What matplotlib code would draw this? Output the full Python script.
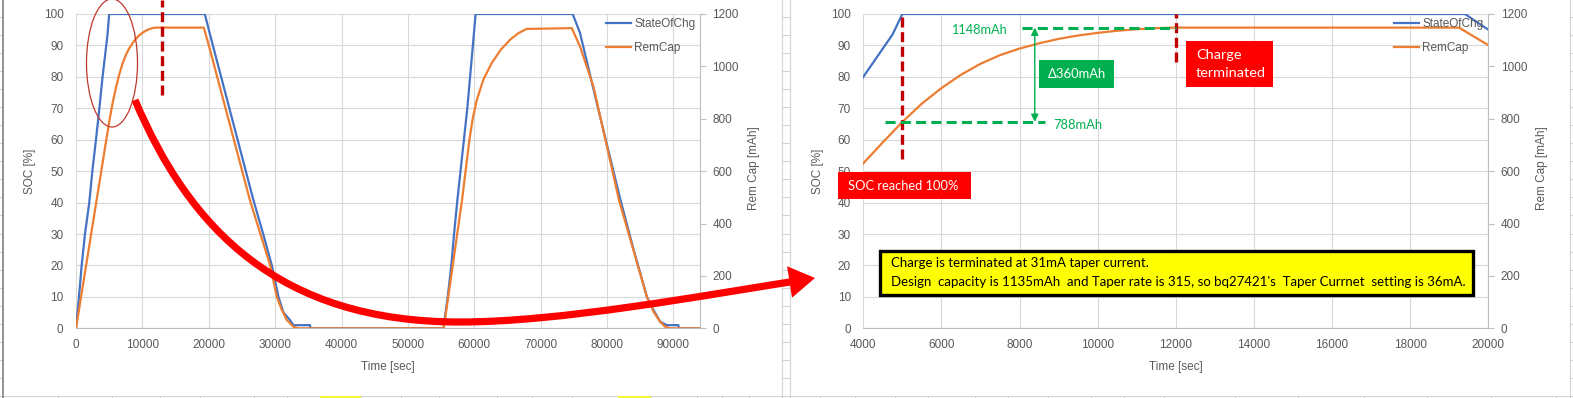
import matplotlib
matplotlib.use("Agg")
import matplotlib.pyplot as plt
from matplotlib.patches import Rectangle, Ellipse, FancyArrowPatch
from matplotlib.path import Path
from matplotlib.lines import Line2D

# ---- values ----
soc_t = [0, 450, 850, 1350, 2000, 2460, 3010, 3520, 4000, 4250, 4500, 4750, 5000,
         19400, 20000, 26700, 28200, 29500, 30500, 31250, 32250, 32750, 35250, 35300,
         55340, 56000, 56540, 56950, 57460, 58950, 60200,
         74820, 75920, 78700, 82000, 84000, 86000, 87000, 88000, 89000, 90750, 90800, 94000]
soc = [0, 10, 20, 30, 40, 50, 60, 70, 80, 84.5, 89, 93.5, 100,
       100, 95, 41, 30, 20, 10, 5, 2.6, 1, 1, 0,
       0, 10, 20, 30, 41, 70, 100,
       100, 94, 69.5, 41, 25, 10, 5.8, 2.1, 1, 1, 0, 0]

cap_t = [0, 3100, 4000, 4500, 5000, 5500, 6000, 6500, 7000, 7500, 8000, 8500, 9000, 9500,
         10000, 10500, 11000, 11500, 12000,
         19250, 20000, 26200, 29250, 30250, 31000, 31750, 32750, 33500,
         55400, 58150, 58760, 59260, 59760, 60370, 61370, 62630, 64000, 65400, 66650, 67900,
         74690, 75940, 77950, 81800, 86000, 87000, 88000, 88750, 89500, 94000]
cap = [0, 489, 630, 710, 788, 858, 917, 968, 1010, 1043, 1068, 1088, 1105, 1118,
       1128, 1136, 1142, 1146, 1148,
       1148, 1081, 489, 240, 120, 70, 32, 6, 0,
       0, 489, 616, 719, 800, 871, 950, 1013, 1064, 1102, 1127, 1143,
       1146, 1075, 923, 489, 120, 63, 25, 6, 0, 0]

left_xticks = list(range(0, 90001, 10000))
right_xticks = list(range(4000, 20001, 2000))
soc_ticks = list(range(0, 101, 10))
cap_ticks = list(range(0, 1201, 200))

# values used by the annotations
full_t = 5000      # SOC reached 100%
term_t = 12000     # charge terminated
cap_hi = 1148
cap_lo = 788

BLUE = "#4472C4"
ORANGE = "#ED7D31"
GRID = "#d9d9d9"
TXT = "#595959"
DRED = "#C00000"
RED = "#FF0000"
GREEN = "#00B050"
NOTE_FONT = ["Lato", "DejaVu Sans"]

W, H = 1573, 398
plt.rcParams["font.family"] = ["Liberation Sans", "DejaVu Sans"]
fig = plt.figure(figsize=(W / 100, H / 100), dpi=100)


def fx(x):
    return x / W


def fy(y):
    return 1 - y / H


def panel(x0, x1, xlim, xticks, leg_x, soc_lab_x, cap_lab_x):
    ax = fig.add_axes([fx(x0), fy(328.3), fx(x1) - fx(x0), fy(14) - fy(328.3)])
    axr = ax.twinx()
    l1, = ax.plot(soc_t, soc, color=BLUE, lw=1.6, label="StateOfChg")
    l2, = axr.plot(cap_t, cap, color=ORANGE, lw=1.6, label="RemCap")
    ax.set_xlim(xlim)
    ax.set_ylim(0, 100)
    axr.set_ylim(0, 1200)
    ax.set_xticks(xticks)
    ax.set_yticks(soc_ticks)
    axr.set_yticks(cap_ticks)
    ax.grid(True, color=GRID, lw=0.8)
    ax.set_axisbelow(True)
    for a in (ax, axr):
        for s in a.spines.values():
            s.set_visible(False)
    ax.spines["bottom"].set_visible(True)
    ax.spines["bottom"].set_color("#bfbfbf")
    axr.spines["right"].set_visible(True)
    axr.spines["right"].set_color("#bfbfbf")
    ax.tick_params(axis="both", length=0, labelsize=8.5, labelcolor=TXT)
    ax.tick_params(axis="x", pad=8)
    ax.tick_params(axis="y", pad=9)
    axr.tick_params(axis="y", length=4, color="#bfbfbf", pad=5, labelsize=8.5, labelcolor=TXT)
    axr.legend(handles=[l1, l2], loc="upper left", bbox_to_anchor=(fx(leg_x), fy(18)),
               bbox_transform=fig.transFigure, frameon=False, fontsize=8.5, labelcolor=TXT,
               handlelength=2.1, handletextpad=0.3, labelspacing=1.0, borderpad=0, borderaxespad=0)
    fig.text(fx((x0 + x1) / 2), fy(367), "Time [sec]", ha="center", va="center", fontsize=8.5, color=TXT)
    fig.text(fx(soc_lab_x), fy(171), "SOC [%]", ha="center", va="center", rotation=90, fontsize=8.5, color=TXT)
    fig.text(fx(cap_lab_x), fy(168), "Rem Cap [mAh]", ha="center", va="center", rotation=90, fontsize=8.5, color=TXT)
    return ax, axr


def box(x0, y0, x1, y1, fc, ec="none", lw=0):
    fig.add_artist(Rectangle((fx(x0), fy(y1)), fx(x1) - fx(x0), fy(y0) - fy(y1),
                             transform=fig.transFigure, fc=fc, ec=ec, lw=lw))


def note(x, y, s, width, color, ha="left"):
    t = fig.text(fx(x), fy(y), s, ha=ha, va="center", color=color, fontsize=10, family=NOTE_FONT)
    r = fig.canvas.get_renderer()
    w = t.get_window_extent(renderer=r).width
    t.set_fontsize(10 * width / w)
    return t


# spreadsheet cell lines behind the charts
cell = dict(color="#d4d4d4", lw=0.8, transform=fig.transFigure, zorder=-2)
fig.add_artist(Line2D([fx(0), fx(W)], [fy(395.5), fy(395.5)], **cell))
for cx in [58, 112, 160, 200, 254, 287, 323, 361, 401, 439, 497, 532, 572, 620, 651, 697, 722, 749,
           820, 855, 895, 928, 975, 1008, 1048, 1091, 1124, 1164, 1235, 1298, 1364, 1427, 1491, 1556]:
    fig.add_artist(Line2D([fx(cx), fx(cx)], [fy(395.5), fy(398)], **cell))
for sx in (781.5, 790, 1570):
    fig.add_artist(Line2D([fx(sx), fx(sx)], [fy(0), fy(398)], **cell))
for k in range(22):
    ry = 16.7 + 18.07 * k
    fig.add_artist(Line2D([fx(781.5), fx(790)], [fy(ry), fy(ry)], **cell))
    fig.add_artist(Line2D([fx(1570), fx(1573)], [fy(ry), fy(ry)], **cell))
    fig.add_artist(Line2D([fx(0), fx(2.5)], [fy(ry), fy(ry)], **cell))
fig.add_artist(Line2D([fx(2.5), fx(2.5)], [fy(0), fy(398)], color="#808080", lw=1.2,
                      transform=fig.transFigure, zorder=-2))
for yx0, yx1 in ((320, 361), (618, 651)):
    fig.add_artist(Rectangle((fx(yx0), 0), fx(yx1) - fx(yx0), fy(396) - fy(398),
                             transform=fig.transFigure, fc="#f7f73a", ec="none", zorder=-1))

ax1, ax1r = panel(76, 700, (0, 94000), left_xticks, 606, 30, 754)
ax2, ax2r = panel(863.3, 1488.3, (4000, 20000), right_xticks, 1394, 818, 1541.7)

# ---- left chart marks ----
ax1r.plot([12950, 12950], [890, 1254], color=DRED, lw=2.4, dashes=(3, 1.4), clip_on=False, zorder=5)
fig.add_artist(Ellipse((fx(112), fy(63)), fx(51), 128 / H, transform=fig.transFigure,
                       fill=False, ec="#C0392B", lw=0.9))

arrow_px = [(135, 100), (190, 230), (280, 322), (460, 322), (560, 322), (700, 296), (815, 278)]
arrow_path = Path([(fx(x), fy(y)) for x, y in arrow_px],
                  [Path.MOVETO] + [Path.CURVE4] * 6)
fig.add_artist(FancyArrowPatch(path=arrow_path, arrowstyle="-|>,head_length=0.55,head_width=0.34",
                               mutation_scale=20, lw=5.2, color=RED, transform=fig.transFigure,
                               joinstyle="miter", capstyle="butt"))

# ---- right chart marks ----
ax2r.plot([full_t, full_t], [648, 1200], color=DRED, lw=2.4, dashes=(3, 1.4), zorder=5)
ax2r.plot([term_t, term_t], [1016, 1200], color=DRED, lw=2.4, dashes=(3, 1.4), zorder=5)
ax2r.plot([8055, term_t], [cap_hi, cap_hi], color=GREEN, lw=2.2, dashes=(3.3, 1.7), zorder=5)
ax2r.plot([4560, 8650], [cap_lo, cap_lo], color=GREEN, lw=2.2, dashes=(3.3, 1.7), zorder=5)
ax2r.annotate("", xy=(8390, cap_lo), xytext=(8390, cap_hi),
              arrowprops=dict(arrowstyle="<|-|>", color=GREEN, lw=1, mutation_scale=11,
                              shrinkA=0, shrinkB=0), zorder=6)

note(951.5, 30, f"{cap_hi}mAh", 56, GREEN)
note(1053, 125, f"{cap_lo}mAh", 49, GREEN)
box(1039, 60, 1114, 88, GREEN)
note(1076.5, 74, f"\u0394{cap_hi - cap_lo}mAh", 58, "white", ha="center")

box(838, 172, 970.7, 199, RED)
note(848, 186, "SOC reached 100%", 111, "white")

box(1186, 41, 1273, 87, RED)
t_term = note(1196, 73, "terminated", 70, "white")
fig.text(fx(1196), fy(55), "Charge", ha="left", va="center", color="white",
         fontsize=t_term.get_fontsize(), family=NOTE_FONT)

box(880.5, 250.5, 1472.5, 295, "#FFFF00", ec="black", lw=2.4)
line2 = note(890.7, 281.7, "Design  capacity is 1135mAh  and Taper rate is 315, so bq27421's  Taper Currnet  setting is 36mA.",
             572, "black")
fig.text(fx(890.7), fy(263.3), "Charge is terminated at 31mA taper current.", ha="left", va="center",
         color="black", fontsize=line2.get_fontsize(), family=NOTE_FONT)

fig.savefig("out.png", dpi=100)
